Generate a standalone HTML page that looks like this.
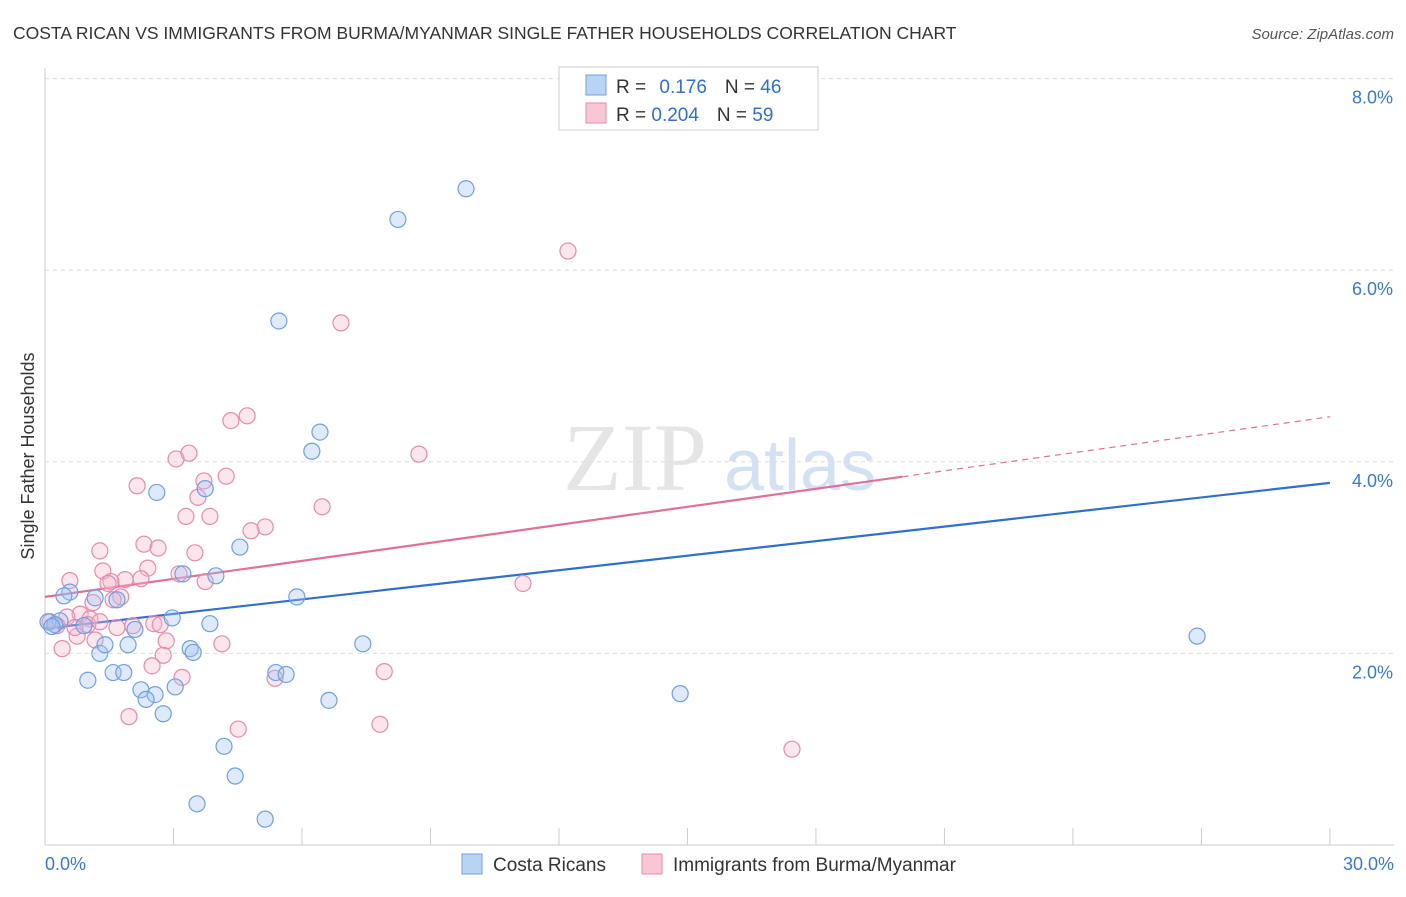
<!DOCTYPE html>
<html><head><meta charset="utf-8"><style>
body{margin:0;background:#fff;font-family:"Liberation Sans",sans-serif}
</style></head><body>
<svg id="c" width="1406" height="892" xmlns="http://www.w3.org/2000/svg" font-family="Liberation Sans, sans-serif">
<text x="13" y="39" font-size="17.5" fill="#333">COSTA RICAN VS IMMIGRANTS FROM BURMA/MYANMAR SINGLE FATHER HOUSEHOLDS CORRELATION CHART</text>
<text x="1394" y="39" font-size="15" fill="#555" text-anchor="end" font-style="italic">Source: ZipAtlas.com</text>
<text transform="translate(34,456) rotate(-90)" font-size="18" fill="#333" text-anchor="middle">Single Father Households</text>
<g opacity="0.5"><text x="635" y="490" font-family="Liberation Serif, serif" font-size="96" fill="#ccc" text-anchor="middle">ZIP</text><text x="800" y="490" font-size="72" fill="#a8c4ea" text-anchor="middle">atlas</text></g>
<g id="grid"></g><g id="lines"></g><g id="pts"></g>
<g>
<rect x="559" y="67" width="259" height="63" fill="#fff" stroke="#ccc"/>
<rect x="586" y="75" width="20" height="20" fill="#b9d3f5" stroke="#6fa0e0"/>
<rect x="586" y="103" width="20" height="20" fill="#f9c6d6" stroke="#e88aaa"/>
<text x="616" y="93" font-size="19" fill="#333">R = <tspan fill="#2f6fd0" dx="8">0.176</tspan><tspan dx="18">N = </tspan><tspan fill="#2f6fd0">46</tspan></text>
<text x="616" y="121" font-size="19" fill="#333">R = <tspan fill="#2f6fd0">0.204</tspan><tspan dx="18">N = </tspan><tspan fill="#2f6fd0">59</tspan></text>
</g>
<g>
<rect x="462" y="854" width="20" height="20" fill="#b9d3f5" stroke="#6fa0e0"/>
<text x="493" y="871" font-size="19" fill="#333">Costa Ricans</text>
<rect x="642" y="854" width="20" height="20" fill="#f9c6d6" stroke="#e88aaa"/>
<text x="673" y="871" font-size="19" fill="#333">Immigrants from Burma/Myanmar</text>
</g>
</svg>
<script>
const xTicks=[0,3,6,9,12,15,18,21,24,27,30];
const yTicks=[2,4,6,8];
const blueX=[9.83,8.24,5.46,6.42,6.23,2.61,3.74,4.55,3.22,3.99,5.88,1.68,1.17,0.58,0.44,2.97,3.85,2.10,0.91,0.35,0.07,1.94,1.28,3.39,3.46,7.42,1.40,1.00,1.59,1.84,5.39,5.63,2.24,2.57,2.36,3.04,2.76,6.63,14.83,4.18,4.44,3.55,5.14,26.90,0.23,0.16];
const blueY=[6.85,6.53,5.47,4.31,4.11,3.68,3.72,3.11,2.83,2.81,2.59,2.56,2.58,2.64,2.60,2.37,2.31,2.25,2.29,2.34,2.33,2.09,2.00,2.05,2.01,2.10,2.09,1.72,1.80,1.80,1.80,1.78,1.62,1.57,1.52,1.65,1.37,1.51,1.58,1.03,0.72,0.43,0.27,2.18,2.30,2.28];
const pinkX=[12.21,6.91,4.72,4.34,8.73,3.36,3.06,3.71,4.23,2.15,3.57,6.47,3.29,3.85,5.14,4.81,2.31,2.64,1.28,3.50,2.40,1.35,3.13,3.74,2.24,1.87,1.54,0.58,1.47,11.16,1.12,1.77,0.82,1.05,0.51,1.00,2.54,1.68,0.75,2.83,4.13,1.17,2.76,2.50,7.92,5.37,3.20,1.96,4.51,7.82,17.44,0.40,0.70,0.28,0.12,2.05,2.69,1.59,1.28];
const pinkY=[6.20,5.45,4.48,4.43,4.08,4.09,4.03,3.80,3.85,3.75,3.63,3.53,3.43,3.43,3.32,3.28,3.14,3.10,3.07,3.05,2.89,2.86,2.83,2.75,2.78,2.77,2.75,2.76,2.73,2.73,2.53,2.59,2.41,2.36,2.38,2.30,2.31,2.27,2.18,2.13,2.10,2.14,1.98,1.87,1.81,1.74,1.75,1.34,1.21,1.26,1.00,2.05,2.27,2.29,2.33,2.29,2.30,2.56,2.33];
const blueFit=[2.26,3.78];
const pinkFit=[2.59,4.47];
const pinkSolidEnd=20.02;
const sx=v=>45+v*42.83, sy=v=>845-v*95.8;
const NS="http://www.w3.org/2000/svg";
function mk(t,a,p){const e=document.createElementNS(NS,t);for(const k in a)e.setAttribute(k,a[k]);p.appendChild(e);return e;}
const g=document.getElementById('grid'),L=document.getElementById('lines'),P=document.getElementById('pts');
let ax=mk('line',{x1:45,y1:845,x2:1394,y2:845,stroke:'#ccc'},g);


let ay=mk('line',{x1:45,y1:68,x2:45,y2:845,stroke:'#ccc'},g);


yTicks.forEach(v=>{
 const l=mk('line',{x1:45,x2:1394,y1:sy(v),y2:sy(v),stroke:'#ddd','stroke-dasharray':'4,4'},g);
 
 
 const t=mk('text',{x:1393,y:sy(v)+25,'font-size':18,fill:'#3a78d6','text-anchor':'end'},g);t.textContent=v.toFixed(1)+'%';
 
 
});
xTicks.forEach(v=>{
 const l=mk('line',{x1:sx(v),x2:sx(v),y1:828,y2:845,stroke:'#ccc'},g);
 
 
});
[[0,'0.0%',45,'start'],[30,'30.0%',1394,'end']].forEach(a=>{
 const t=mk('text',{x:a[2],y:870,'font-size':18,fill:'#3a78d6','text-anchor':a[3]},g);t.textContent=a[1];
 
 
});
function pts(X,Y,f,s,n){X.forEach((x,i)=>{const c=mk('circle',{cx:sx(x),cy:sy(Y[i]),r:8,fill:f,stroke:s,'stroke-width':1.2},P);
 
 });}
pts(pinkX,pinkY,'rgba(246,182,202,0.35)','#e88aaa','burmese-point');
pts(blueX,blueY,'rgba(160,196,240,0.35)','#6fa0e0','costa-rican-point');
let bl=mk('line',{x1:sx(0),y1:sy(blueFit[0]),x2:sx(30),y2:sy(blueFit[1]),stroke:'#2f6fd0','stroke-width':2.2},L);


const pm=v=>pinkFit[0]+(pinkFit[1]-pinkFit[0])*v/30;
let pl=mk('line',{x1:sx(0),y1:sy(pm(0)),x2:sx(pinkSolidEnd),y2:sy(pm(pinkSolidEnd)),stroke:'#e0709a','stroke-width':2.2},L);


let pd=mk('line',{x1:sx(pinkSolidEnd),y1:sy(pm(pinkSolidEnd)),x2:sx(30),y2:sy(pm(30)),stroke:'#e0709a','stroke-width':1.2,'stroke-dasharray':'6,5'},L);


</script>
</body></html>
